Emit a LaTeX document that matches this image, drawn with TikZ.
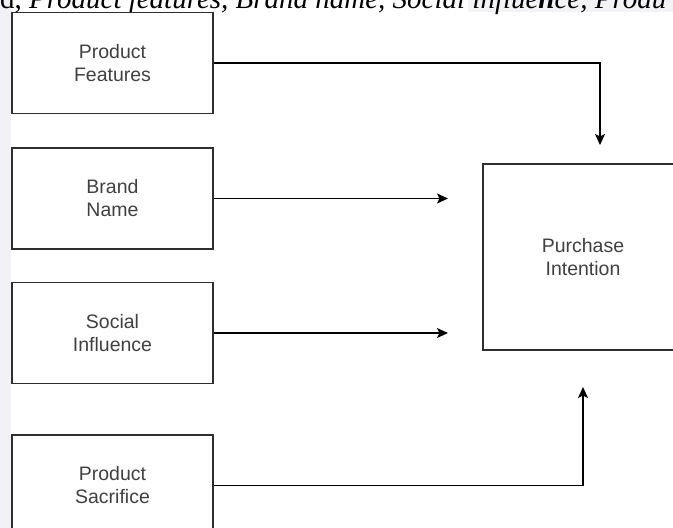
\documentclass[tikz,border=0pt]{standalone}
\usepackage{fontspec}
\setmainfont{Liberation Sans}
\newfontfamily\serifit{Liberation Serif}
\usetikzlibrary{arrows.meta}
\definecolor{edge}{HTML}{2E2E2E}
\definecolor{labtext}{HTML}{404040}
\definecolor{stripbg}{HTML}{F1F1F6}
\definecolor{bandbg}{HTML}{F3F3F6}
\tikzset{
  factorbox/.style={draw=edge, line width=1.3pt, fill=white, minimum width=201pt, minimum height=101pt, inner sep=0pt, align=center, text=labtext, font=\fontsize{19.5}{23}\selectfont},
  targetbox/.style={factorbox, minimum width=200pt, minimum height=186pt},
  conn/.style={draw=black, line width=1.3pt, -{Stealth[length=11pt, width=10pt, inset=2.5pt]}}
}
\begin{document}
\begin{tikzpicture}[x=1pt, y=-1pt]
\useasboundingbox (0,0) rectangle (673,528);
\clip (0,0) rectangle (673,528);
\fill[stripbg] (0,0) rectangle (11,528);
\fill[bandbg] (468,0) rectangle (673,12);
\node[anchor=base west, inner sep=0pt, font=\serifit\fontsize{29}{30}\selectfont] (toptext) at (0,8) {d, \itshape Product features, Brand name, Social influe\textbf{n}ce, Produ};
\node[factorbox] (pf) at (112.5,63) {Product\\Features};
\node[factorbox] (bn) at (112.5,198.5) {Brand\\Name};
\node[factorbox] (si) at (112.5,333) {Social\\Influence};
\node[factorbox] (ps) at (112.5,485.5) {Product\\Sacrifice};
\node[targetbox] (pi) at (583,257) {Purchase\\Intention};
\coordinate (tipa) at (600,145);
\coordinate (tipb) at (448,198.5);
\coordinate (tipc) at (448,333);
\coordinate (tipd) at (583,387);
\draw[conn] (pf.east) -| (tipa);
\draw[conn] (bn.east) -- (tipb);
\draw[conn] (si.east) -- (tipc);
\draw[conn] (ps.east) -| (tipd);
\end{tikzpicture}
\end{document}
